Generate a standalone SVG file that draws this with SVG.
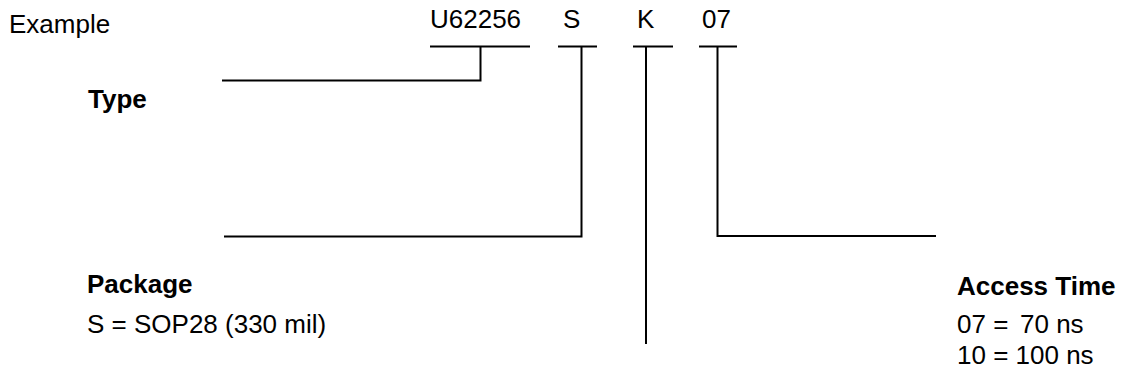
<svg xmlns="http://www.w3.org/2000/svg" width="1121" height="374" viewBox="0 0 1121 374">
<style>
text{font-family:"Liberation Sans",Arial,sans-serif;font-size:26px;fill:#000}
.b{font-weight:bold}
.ln{fill:none;stroke:#000;stroke-width:2}
</style>
<rect width="1121" height="374" fill="#fff"/>
<g id="example"><text x="9" y="33">Example</text></g>
<g id="code">
<text x="430" y="28">U62256</text>
<text x="563" y="28">S</text>
<text x="637" y="28">K</text>
<text x="702" y="28">07</text>
</g>
<g id="type"><text class="b" x="88" y="108">Type</text></g>
<g id="package">
<text class="b" x="87" y="293">Package</text>
<text x="87" y="333">S = SOP28 (330 mil)</text>
</g>
<g id="access">
<text class="b" x="957" y="295">Access Time</text>
<text x="957" y="333">07 =<tspan x="1020">70 ns</tspan></text>
<text x="957" y="364">10 = 100 ns</text>
</g>
<g id="connectors">
<path class="ln" d="M430 46.5H530M480.5 46.5V80.5H222"/>
<path class="ln" d="M558 46.5H597M581.5 46.5V236.5H224"/>
<path class="ln" d="M633 46.5H673M646 46.5V344"/>
<path class="ln" d="M699 46.5H737M717.5 46.5V236H936"/>
</g>
</svg>
